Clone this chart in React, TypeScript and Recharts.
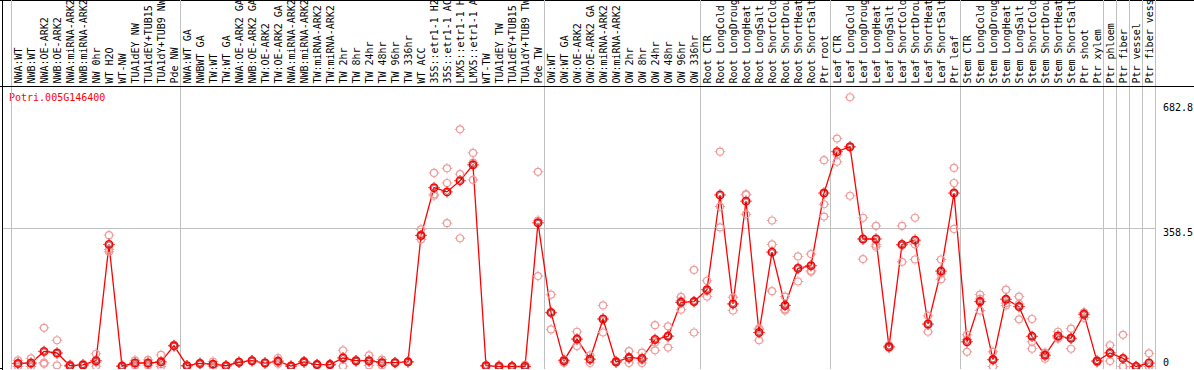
import React from 'react';
import { ComposedChart, Line, Scatter, XAxis, YAxis, ReferenceLine } from 'recharts';

const geneId = 'Potri.005G146400';

const categories: string[] = [
  'NWA:WT', 'NWB:WT', 'NWA:OE-ARK2', 'NWB:OE-ARK2', 'NWA:miRNA-ARK2', 'NWB:miRNA-ARK2',
  'NW 0hr', 'WT H2O', 'WT-NW', 'TUA1dEY NW', 'TUA1dEY+TUB15 NW', 'TUA1dY+TUB9 NW', 'Pde NW',
  'NWA:WT GA', 'NWBWT GA', 'TW:WT', 'TW:WT GA', 'NWA:OE-ARK2 GA', 'NWB:OE-ARK2 GA',
  'TW:OE-ARK2', 'TW:OE-ARK2 GA', 'NWA:miRNA-ARK2 GA', 'NWB:miRNA-ARK2 GA', 'TW:miRNA-ARK2',
  'TW:miRNA-ARK2 GA', 'TW 2hr', 'TW 8hr', 'TW 24hr', 'TW 48hr', 'TW 96hr', 'TW 336hr', 'WT ACC',
  '35S::etr1-1 H2O', '35S::etr1-1 ACC', 'LMX5::etr1-1 H2O', 'LMX5::etr1-1 ACC', 'WT-TW',
  'TUA1dEY TW', 'TUA1dEY+TUB15 TW', 'TUA1dY+TUB9 TW', 'Pde TW',
  'OW:WT', 'OW:WT GA', 'OW:OE-ARK2', 'OW:OE-ARK2 GA', 'OW:miRNA-ARK2', 'OW:miRNA-ARK2 GA',
  'OW 2hr', 'OW 8hr', 'OW 24hr', 'OW 48hr', 'OW 96hr', 'OW 336hr',
  'Root CTR', 'Root LongCold', 'Root LongDrought', 'Root LongHeat', 'Root LongSalt',
  'Root ShortCold', 'Root ShortDrought', 'Root ShortHeat', 'Root ShortSalt', 'Ptr root',
  'Leaf CTR', 'Leaf LongCold', 'Leaf LongDrought', 'Leaf LongHeat', 'Leaf LongSalt',
  'Leaf ShortCold', 'Leaf ShortDrought', 'Leaf ShortHeat', 'Leaf ShortSalt', 'Ptr leaf',
  'Stem CTR', 'Stem LongCold', 'Stem LongDrought', 'Stem LongHeat', 'Stem LongSalt',
  'Stem ShortCold', 'Stem ShortDrought', 'Stem ShortHeat', 'Stem ShortSalt', 'Ptr shoot',
  'Ptr xylem', 'Ptr phloem', 'Ptr fiber', 'Ptr vessel', 'Ptr fiber vessel',
];

const meanValues: number[] = [
  8, 9, 39, 35, 2, 4, 15, 316, 1, 9, 9, 12, 54,
  2, 8, 6, 2, 11, 15, 9, 14, 1, 12, 5, 5, 22, 15, 15, 10, 10, 12, 339, 463, 452, 481, 522, 2, 0, 0, 0, 372,
  140, 15, 71, 19, 123, 12, 23, 21, 70, 78, 166, 168,
  199, 444, 162, 428, 88, 296, 158, 254, 261, 449,
  556, 569, 330, 330, 51, 316, 327, 110, 247, 449,
  64, 168, 18, 174, 155, 78, 29, 79, 73, 135, 14,
  35, 21, 0, 9,
];

const rep1: number[] = [
  16, 21, 100, 68, 5, 6, 33, 340, 1, 16, 17, 30, 56,
  2, 9, 13, 2, 12, 15, 10, 22, 2, 14, 6, 6, 42, 16, 29, 18, 11, 13, 355, 501, 513, 614, 553, 3, 3, 1, 4, 504,
  186, 18, 90, 29, 158, 14, 40, 36, 107, 104, 180, 250,
  222, 556, 179, 446, 99, 378, 181, 285, 291, 534,
  590, 697, 385, 364, 55, 364, 385, 131, 277, 514,
  82, 186, 38, 199, 181, 123, 36, 90, 98, 140, 16,
  55, 82, 0, 34,
];

const rep2: number[] = [
  7, 7, 10, 34, 1, 4, 11, 303, 0, 9, 8, 6, 53,
  1, 7, 5, 1, 11, 15, 9, 12, 1, 12, 5, 5, 24, 14, 12, 10, 10, 12, 340, 446, 475, 498, 528, 1, 0, 0, 0, 378,
  138, 15, 71, 19, 123, 12, 20, 17, 62, 80, 170, 168,
  195, 414, 162, 444, 96, 316, 148, 256, 248, 420,
  548, 568, 330, 315, 50, 313, 316, 108, 240, 475,
  70, 175, 16, 164, 162, 64, 32, 75, 74, 138, 14,
  36, 0, 0, 0,
];

const rep3: number[] = [
  0, 0, 7, 3, 0, 2, 1, 297, 1, 3, 3, 0, 52,
  2, 6, 0, 2, 10, 14, 9, 7, 0, 10, 4, 3, 1, 13, 3, 3, 10, 11, 329, 442, 371, 332, 483, 1, 0, 0, 0, 234,
  96, 10, 53, 9, 88, 10, 9, 9, 42, 49, 147, 88,
  181, 360, 145, 394, 68, 195, 145, 220, 245, 388,
  530, 442, 278, 310, 48, 271, 277, 90, 226, 356,
  38, 145, 0, 158, 122, 46, 20, 72, 46, 126, 11,
  14, 0, 0, 0,
];

const valueTicks: number[] = [0, 358.5, 682.8];
const gridValue = 358.5;
const groupBoundaries: number[] = [0.5, 13.5, 41.5, 53.5, 63.5, 73.5, 84.5, 85.5, 86.5, 87.5, 88.5];

const data = categories.map((label, k) => ({
  i: k + 1,
  label,
  mean: meanValues[k],
  r1: rep1[k],
  r2: rep2[k],
  r3: rep3[k],
}));

// layout constants
const W = 1194;
const H = 370;
const PLOT_LEFT = 2;
const PLOT_RIGHT = 1156;
const HEADER = 86;
const PLOT_BOTTOM = 369;
const COL = 13;
const FIRST_CENTER = 18;
const xMin = 1 - (FIRST_CENTER - PLOT_LEFT) / COL;
const xMax = xMin + (PLOT_RIGHT - PLOT_LEFT) / COL;
const ZERO_Y = 366.5;
const PX_PER_UNIT = 0.3863;
const yMax = (ZERO_Y - HEADER) / PX_PER_UNIT;
const yMin = -(PLOT_BOTTOM - ZERO_Y) / PX_PER_UNIT;
const FONT = '"DejaVu Sans Mono", "Liberation Mono", monospace';
const GRID = '#c0c0c0';

const HeaderTick = (props: any) => {
  const { x, payload } = props;
  const label = categories[payload.value - 1];
  const tx = x + 3.6;
  const ty = 83.5;
  return (
    <text
      x={tx}
      y={ty}
      transform={`rotate(-90, ${tx}, ${ty})`}
      fontFamily={FONT}
      fontSize={10}
      fill="#000"
      textAnchor="start"
    >
      {label}
    </text>
  );
};

const ValueTick = (props: any) => {
  const { x, y, payload } = props;
  const v = payload.value;
  return (
    <text x={x} y={v === 0 ? y - 1 : y + 8.3} fontFamily={FONT} fontSize={10} fill="#000" textAnchor="start">
      {v === 0 ? '0' : Number(v).toFixed(1)}
    </text>
  );
};

const Spikes = ({ cx, cy, r, color, w }: any) => (
  <g stroke={color} strokeWidth={w}>
    <line x1={cx} y1={cy - r} x2={cx} y2={cy - r - 1.3} />
    <line x1={cx} y1={cy + r} x2={cx} y2={cy + r + 1.3} />
    <line x1={cx - r} y1={cy} x2={cx - r - 1.3} y2={cy} />
    <line x1={cx + r} y1={cy} x2={cx + r + 1.3} y2={cy} />
  </g>
);

const RepDot = (props: any) => {
  const { cx, cy } = props;
  if (cx == null || cy == null) return <g />;
  return (
    <g>
      <circle cx={cx} cy={cy} r={3.5} fill="none" stroke="#ee9a9a" strokeWidth={1.2} />
      <Spikes cx={cx} cy={cy} r={4} color="#ee9a9a" w={1} />
    </g>
  );
};

const MeanDot = (props: any) => {
  const { cx, cy, index } = props;
  if (cx == null || cy == null) return <g key={`m${index}`} />;
  return (
    <g key={`m${index}`}>
      <circle cx={cx} cy={cy} r={3.7} fill="none" stroke="#ff0000" strokeWidth={1.6} />
      <circle cx={cx} cy={cy} r={2.5} fill="none" stroke="#700000" strokeWidth={0.6} />
      <Spikes cx={cx} cy={cy} r={4.4} color="#ff0000" w={1} />
    </g>
  );
};

const vGrid = (p: any) => (
  <line x1={p.x1} x2={p.x2} y1={0} y2={PLOT_BOTTOM} stroke={GRID} strokeWidth={1} shapeRendering="crispEdges" />
);

export default function App() {
  return (
    <div style={{ position: 'absolute', left: 0, top: 0, width: W, height: H, background: '#fff' }}>
      <ComposedChart
        width={W}
        height={H}
        data={data}
        margin={{ top: 0, right: 0, bottom: H - PLOT_BOTTOM, left: PLOT_LEFT }}
      >
        <XAxis
          dataKey="i"
          type="number"
          orientation="top"
          height={HEADER}
          domain={[xMin, xMax]}
          allowDataOverflow
          ticks={data.map((d) => d.i)}
          interval={0}
          tick={<HeaderTick />}
          tickLine={false}
          axisLine={false}
        />
        <YAxis
          type="number"
          orientation="right"
          width={W - PLOT_RIGHT}
          domain={[yMin, yMax]}
          allowDataOverflow
          ticks={valueTicks}
          interval={0}
          tick={<ValueTick />}
          tickLine={false}
          tickSize={7}
          tickMargin={0}
          axisLine={false}
        />
        <ReferenceLine y={gridValue} stroke={GRID} strokeWidth={1} shapeRendering="crispEdges" />
        {groupBoundaries.map((b) => (
          <ReferenceLine key={`g${b}`} x={b} ifOverflow="visible" shape={vGrid} />
        ))}
        <ReferenceLine
          x={xMin}
          ifOverflow="visible"
          shape={(p: any) => (
            <line x1={p.x1} x2={p.x2} y1={0} y2={H} stroke="#000" strokeWidth={1} shapeRendering="crispEdges" />
          )}
        />
        <ReferenceLine
          y={yMax}
          ifOverflow="visible"
          shape={(p: any) => (
            <line x1={0} x2={W} y1={p.y1} y2={p.y2} stroke="#000" strokeWidth={1} shapeRendering="crispEdges" />
          )}
        />
        <ReferenceLine
          y={yMin}
          ifOverflow="visible"
          shape={(p: any) => (
            <line x1={0} x2={p.x2} y1={p.y1 - 0.5} y2={p.y2 - 0.5} stroke="#000" strokeWidth={1} shapeRendering="crispEdges" />
          )}
        />
        <Scatter dataKey="r1" shape={RepDot} isAnimationActive={false} />
        <Scatter dataKey="r2" shape={RepDot} isAnimationActive={false} />
        <Scatter dataKey="r3" shape={RepDot} isAnimationActive={false} />
        <Line
          dataKey="mean"
          type="linear"
          stroke="#ff0000"
          strokeWidth={1.3}
          dot={MeanDot}
          activeDot={false}
          isAnimationActive={false}
        />
        <text x={9} y={101} fontFamily={FONT} fontSize={10} fill="#ff0000">
          {geneId}
        </text>
        <line x1={0} x2={W} y1={0.5} y2={0.5} stroke="#000" strokeWidth={1} />
      </ComposedChart>
    </div>
  );
}
